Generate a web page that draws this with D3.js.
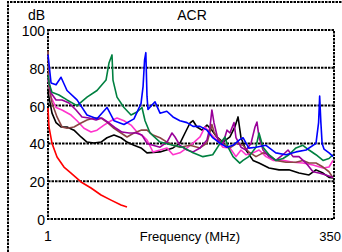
<!DOCTYPE html>
<html>
<head>
<meta charset="utf-8">
<script src="https://cdn.jsdelivr.net/npm/d3@7"></script>
<style>
  body { margin: 0; background: #fff; }
  svg { display: block; font-family: "Liberation Sans", Arial, sans-serif; }
</style>
</head>
<body>
<div id="chart"></div>
<script>
// ACR curves, [frequency MHz, dB]
const limit = [[1,58.7],[2.2,48.7],[5.9,40],[12,32.8],[20.5,27.5],[29.1,24.3],[41.3,19.6],[53.5,16.4],[65.7,12.7],[77.9,10],[90.1,7.4],[97.4,6.3]];

const black = [[1,68],[2.2,64.5],[5.9,56],[10.8,51],[16.9,48.7],[24.2,48.7],[32.7,47],[41.3,43.4],[48.6,40.7],[57.1,40.2],[65.7,40.7],[73,43],[81.5,44.4],[90.1,43],[97.4,40.7],[105.9,39],[114.5,37.6],[121.8,35],[137.7,35.5],[153.5,37.6],[162,40],[168.2,45.5],[174.3,50.8],[178,52],[182.8,48.7],[188.9,47],[195,49.7],[201,47],[207,43.4],[214.5,40.7],[223,43.4],[229,48.7],[232.9,54],[236.5,43],[242.6,36.5],[251.2,31],[258.5,29.6],[270.7,27],[282.9,26],[295,26],[307.3,24.3],[319.5,23.3],[328,26],[336.6,24.3],[343.9,22],[348.8,21.7]];

const pink = [[1,74],[4.7,64.5],[10.8,59],[18.1,57.7],[29.1,55],[36.4,52],[44.9,48],[53.5,46],[60.8,47],[69.3,49.7],[77.9,52],[85.2,53.4],[93.7,52],[102.3,49.7],[109.6,46],[118.1,43.4],[121.8,41.8],[129.1,35.5],[137.7,36.5],[146.2,37.6],[153.5,34],[162,35],[170.6,37.6],[178,40.2],[186.5,43.4],[192.6,48.7],[198.7,45.5],[207,41.8],[214.5,38],[223,37.6],[230.4,33],[236.5,36.5],[242.6,34],[251.2,35],[258.5,36.5],[267,33],[275.6,31],[287.8,31],[300,30],[312,29.6],[324.4,28.6],[336.6,27],[343.9,27.5],[348.8,31]];

const brown = [[1,89],[2.2,70],[5.9,61.4],[12,54],[18.1,48.7],[24.2,48],[32.7,48.7],[41.3,50.8],[48.6,52.4],[57.1,53.4],[65.7,53.4],[73,51.3],[81.5,48],[90.1,45.5],[97.4,43.4],[105.9,45.5],[114.5,47],[121.8,47],[129.1,44.4],[137.7,43],[146.2,40.7],[153.5,39],[162,38],[174.3,39],[186.5,37.6],[195,40.2],[199.9,48],[201,50],[203.6,46],[207,43.4],[214.5,40],[223,37.6],[231.6,40],[239,39],[246,35.5],[254.8,33],[263.4,35],[270.7,34],[279,31],[291.4,30],[303.6,30],[312,31],[319.5,29.6],[328,29.6],[336.6,27.5],[343.9,25],[348.8,21.7]];

const purple = [[1,75],[4.7,66.7],[10.8,63],[18.1,63],[26.6,61.4],[35.2,57.7],[42.5,54],[51,53.4],[59.6,52.4],[66.9,53.4],[75.4,50.8],[84,48],[91.3,46],[99.8,45.5],[108.4,45.5],[115.7,44.4],[121.8,40],[129.1,39],[137.7,38],[146.2,40.7],[152.3,45.5],[156,43.4],[162,39],[170.6,36.5],[178,35.5],[186.5,37.6],[195,41.8],[198.7,48.7],[201,57.7],[203.6,50.8],[208.5,41.8],[214.5,40],[219.4,47],[223,45.5],[228,51],[230.4,43],[236.5,38],[242.6,36.5],[248.7,40],[253.6,48.7],[256,51.3],[258.5,43.4],[263.4,36.5],[270.7,33],[279,31],[287.8,34],[293.9,36.5],[300,33],[307.3,33],[315.8,29.6],[324.4,25],[331.7,24.3],[340.2,23.3],[348.8,22]];

const green = [[1,76],[2.2,72],[5.9,67],[14.4,65.6],[24.2,63],[36.4,60],[48.6,64.5],[60.8,68],[71.8,73.5],[75.4,82.5],[79.1,86.8],[80.3,73.5],[85.2,64.5],[93.7,59],[102.3,55],[109.6,56.6],[115.7,59],[119.4,52],[125.5,45.5],[137.7,40.7],[153.5,39],[165.7,38],[178,35],[190,33],[202,34],[211,40],[217,43.4],[220.7,38],[226.8,33],[235,29.6],[239,31],[246,33],[254.8,38],[258.5,45.5],[263.4,38],[270.7,34],[279,31],[287.8,32],[295,34],[303.6,37.6],[312,39],[319.5,36.5],[328,34],[336.6,31],[343.9,32],[348.8,34]];

const blue = [[1,87],[4.7,72],[10.8,71],[16.9,75],[24.2,68],[36.4,63],[48.6,55],[60.8,53],[73,59],[81.5,52],[93.7,50],[105.9,53],[114.5,61],[117,70],[118.8,84],[120.4,88],[121.8,65],[123,58],[131.6,62],[137.7,56],[146,57],[153.5,54],[162,52],[170.6,51],[178,49],[186.5,49],[195,47],[202,43],[211,40],[219.4,38],[226.8,39],[235,42],[239,43],[246,37.5],[254.8,38],[267,39],[279,35],[291.4,34],[303.6,35.5],[316,36.5],[328,40],[331.2,51],[332.5,65],[334,51],[335.5,40],[337.8,37],[344,35],[349,33]];

const seriesList = [limit, black, pink, brown, purple, green, blue];
const colors = ["#ff0000", "#000000", "#ff33cc", "#8b4545", "#990099", "#008040", "#0000ff"];

const yTicks = [0, 20, 40, 60, 80, 100];
const xTickLabels = ["1", "350"];

const width = 342, height = 252;
const svg = d3.select("#chart").append("svg")
  .attr("width", width)
  .attr("height", height);

const x = d3.scaleLinear().domain([1, 350]).range([48, 334]);
const y = d3.scaleLinear().domain([0, 100]).range([219, 30]);

const dash = "2.5,1";

// outer frame (only the left and top edges fall inside the window)
svg.append("path")
  .attr("d", "M8,252V2H342")
  .attr("fill", "none")
  .attr("stroke", "#000")
  .attr("stroke-width", 2)
  .attr("stroke-dasharray", dash);

// horizontal grid
svg.append("g")
  .selectAll("line")
  .data(yTicks.slice(1, -1))
  .enter()
  .append("line")
  .attr("x1", x(1))
  .attr("x2", x(350))
  .attr("y1", d => y(d))
  .attr("y2", d => y(d))
  .attr("stroke", "#000")
  .attr("stroke-width", 2)
  .attr("stroke-dasharray", dash);

// plot frame
svg.append("rect")
  .attr("x", x(1))
  .attr("y", y(100))
  .attr("width", x(350) - x(1))
  .attr("height", y(0) - y(100))
  .attr("fill", "none")
  .attr("stroke", "#000")
  .attr("stroke-width", 2)
  .attr("stroke-dasharray", dash);

// curves
const line = d3.line().x(d => x(d[0])).y(d => y(d[1]));
svg.append("g")
  .selectAll("path")
  .data(seriesList)
  .enter()
  .append("path")
  .attr("d", line)
  .attr("fill", "none")
  .attr("stroke", (d, i) => colors[i])
  .attr("stroke-width", 1.6)
  .attr("stroke-linejoin", "round");

// y tick labels
svg.append("g")
  .selectAll("text")
  .data(yTicks)
  .enter()
  .append("text")
  .attr("x", 45)
  .attr("y", d => y(d) + 6)
  .attr("text-anchor", "end")
  .attr("font-size", 14)
  .text(d => d);

// x tick labels
svg.append("text")
  .attr("x", x(1))
  .attr("y", 241)
  .attr("text-anchor", "middle")
  .attr("font-size", 14)
  .text(xTickLabels[0]);
svg.append("text")
  .attr("x", 341)
  .attr("y", 241)
  .attr("text-anchor", "end")
  .attr("font-size", 13)
  .text(xTickLabels[1]);

svg.append("text")
  .attr("x", 45)
  .attr("y", 20)
  .attr("text-anchor", "end")
  .attr("font-size", 14)
  .text("dB");

svg.append("text")
  .attr("x", 192)
  .attr("y", 20)
  .attr("text-anchor", "middle")
  .attr("font-size", 14)
  .text("ACR");

svg.append("text")
  .attr("x", 190)
  .attr("y", 241)
  .attr("text-anchor", "middle")
  .attr("font-size", 13)
  .text("Frequency (MHz)");
</script>
</body>
</html>
